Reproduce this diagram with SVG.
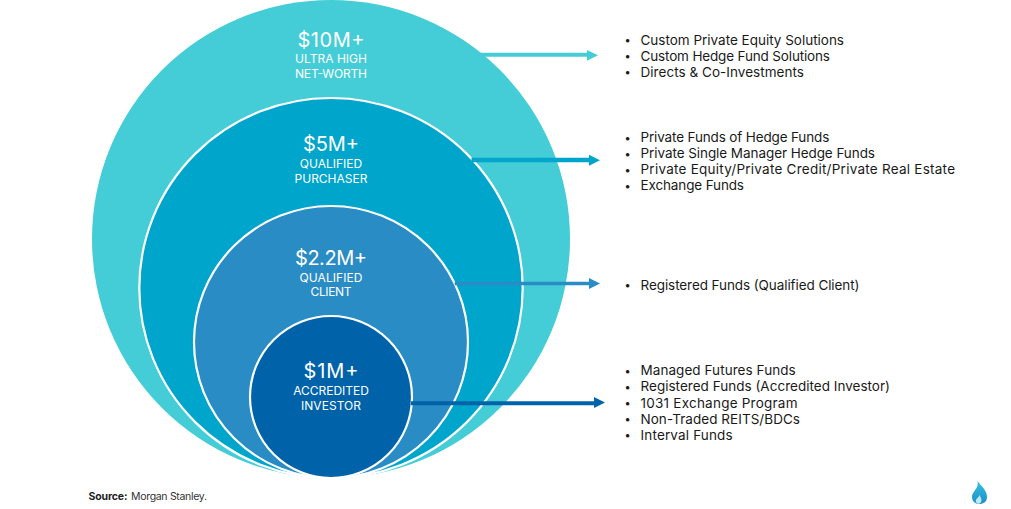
<svg xmlns="http://www.w3.org/2000/svg" width="1011" height="509" viewBox="0 0 1011 509">
<defs>
<linearGradient id="fl" x1="0" y1="0" x2="0" y2="1"><stop offset="0" stop-color="#35c3d8"/><stop offset="1" stop-color="#1b8fcb"/></linearGradient>
</defs>
<style>
text{font-family:"Inter","Liberation Sans",sans-serif}
.c{stroke:#fff;stroke-width:2.2}
.a{font-size:20px;fill:#fff;text-anchor:middle}
.s{font-size:12px;fill:#fff;text-anchor:middle}
.l{font-size:13.5px;fill:#1a1a1a}
.b{font-size:11px;fill:#1a1a1a;text-anchor:middle}
</style>
<rect width="1011" height="509" fill="#fff"/>
<g id="node-10m">
<ellipse cx="331" cy="239" rx="239" ry="239" fill="#44cdd6"/>
<text class="a" x="331" y="46.5" textLength="67">$10M+</text>
<text class="s" x="331" y="63.2" textLength="72">ULTRA HIGH</text>
<text class="s" x="331" y="78" textLength="72">NET-WORTH</text>
</g>
<g id="node-5m">
<ellipse class="c" cx="331" cy="288" rx="191.7" ry="190" fill="#00a5cb"/>
<text class="a" x="331" y="151" textLength="56">$5M+</text>
<text class="s" x="331" y="168">QUALIFIED</text>
<text class="s" x="331" y="182.5">PURCHASER</text>
</g>
<g id="node-2m">
<ellipse class="c" cx="331" cy="342" rx="137" ry="136" fill="#2a8cc4"/>
<text class="a" x="331" y="264.5" textLength="72">$2.2M+</text>
<text class="s" x="331" y="281.5" textLength="63">QUALIFIED</text>
<text class="s" x="331" y="296" textLength="41">CLIENT</text>
</g>
<g id="node-1m">
<circle class="c" cx="331" cy="397" r="81" fill="#0063a9"/>
<text class="a" x="331" y="377.5" textLength="55">$1M+</text>
<text class="s" x="331" y="395" textLength="75.6">ACCREDITED</text>
<text class="s" x="331" y="409.7" textLength="60">INVESTOR</text>
</g>
<g id="connectors">
<path d="M478 52.8H587V50L598 55.3L587 60.7V56.8H478Z" fill="#44cdd6"/>
<path d="M471.5 157.8H589V154.7L600 160.2L589 165.7V162.3H471.5Z" fill="#00a5cb"/>
<path d="M454.7 281.7H589V278L600 283.5L589 289V285.3H454.7Z" fill="#2a8cc4"/>
<path d="M411 401.3H594V397L605 402.5L594 408V405.3H411Z" fill="#0063a9"/>
</g>
<g id="list-1" transform="translate(0,.5)">
<text class="b" x="627.5" y="43">•</text><text class="l" x="640.5" y="44" textLength="203.5">Custom Private Equity Solutions</text>
<text class="b" x="627.5" y="59">•</text><text class="l" x="640.5" y="60" textLength="189.5">Custom Hedge Fund Solutions</text>
<text class="b" x="627.5" y="75.2">•</text><text class="l" x="640.5" y="76.3" textLength="163.5">Directs &amp; Co-Investments</text>
</g>
<g id="list-2" transform="translate(0,.5)">
<text class="b" x="627.5" y="141">•</text><text class="l" x="640.5" y="141" textLength="188.8">Private Funds of Hedge Funds</text>
<text class="b" x="627.5" y="157">•</text><text class="l" x="640.5" y="157" textLength="234.5">Private Single Manager Hedge Funds</text>
<text class="b" x="627.5" y="173.2">•</text><text class="l" x="640.5" y="173.3" textLength="314.5">Private Equity/Private Credit/Private Real Estate</text>
<text class="b" x="627.5" y="189.2">•</text><text class="l" x="640.5" y="189.5" textLength="103.5">Exchange Funds</text>
</g>
<g id="list-3" transform="translate(0,.5)">
<text class="b" x="627.5" y="288.5">•</text><text class="l" x="640.5" y="289" textLength="219">Registered Funds (Qualified Client)</text>
</g>
<g id="list-4" transform="translate(0,.5)">
<text class="b" x="627.5" y="374.5">•</text><text class="l" x="640.5" y="374.7" textLength="155.2">Managed Futures Funds</text>
<text class="b" x="627.5" y="390.5">•</text><text class="l" x="640.5" y="390.7" textLength="249.5">Registered Funds (Accredited Investor)</text>
<text class="b" x="627.5" y="406.7">•</text><text class="l" x="640.5" y="407.3" textLength="157">1031 Exchange Program</text>
<text class="b" x="627.5" y="422.7">•</text><text class="l" x="640.5" y="423.3" textLength="159.5">Non-Traded REITS/BDCs</text>
<text class="b" x="627.5" y="438.7">•</text><text class="l" x="640.5" y="439.3" textLength="92.2">Interval Funds</text>
</g>
<g id="source">
<text x="88.5" y="500" font-size="10.5" font-weight="700" fill="#222" textLength="39">Source:</text>
<text x="131" y="500" font-size="10.5" fill="#333" textLength="76">Morgan Stanley.</text>
</g>
<g id="logo">
<path d="M977.5 481C981 486 987 490 987 497C987 502 983 504 979.5 504C975 504 972 501 972 497C972 493 975 491 976.5 488C977.5 486 978 484 977.5 481Z" fill="url(#fl)"/>
<path d="M979.5 495C981 498 982.5 500 980.5 503C979 504 977 504 976 502C975 499 978.5 498 979.5 495Z" fill="#bfe8f2"/>
</g>
</svg>
